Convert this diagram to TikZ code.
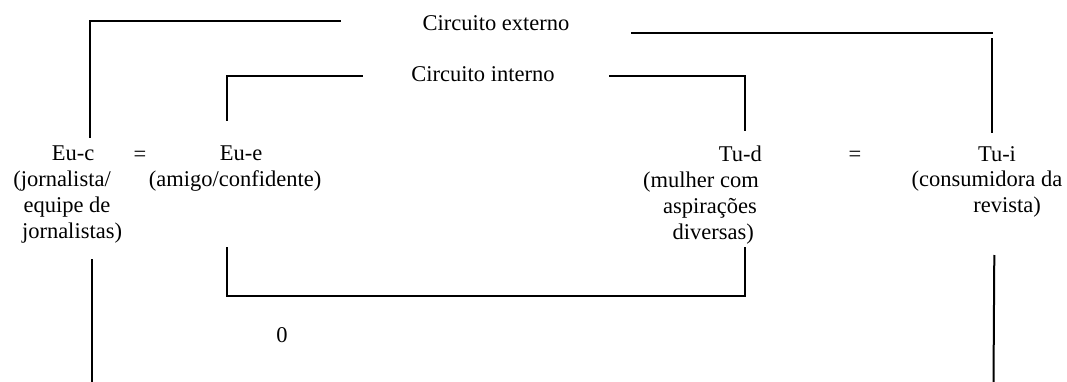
\documentclass[tikz,border=0pt]{standalone}
\usepackage{fontspec}
\setmainfont{Liberation Serif}
\begin{document}
\begin{tikzpicture}[x=1pt,y=-1pt,
  line/.style={draw=black,line width=2pt},
  lbl/.style={inner sep=0pt,font=\fontsize{22.5}{25.8}\selectfont}]
\useasboundingbox (0,0) rectangle (1067,382);
% labels
\node[lbl,anchor=base] (ext) at (496,30.5) {Circuito externo};
\node[lbl,anchor=base] (int) at (483,82) {Circuito interno};
\node[lbl,anchor=north,align=center] (euc) at (73,146) {Eu-c\\(jornalista/\kern22pt\\equipe de\kern12pt\\jornalistas)\kern2pt};
\node[lbl,anchor=base] (eq1) at (140,161) {=};
\node[lbl,anchor=north,align=center] (eue) at (241,146) {Eu-e\\(amigo/confidente)\kern12pt};
\node[lbl,anchor=north east,align=right] (tud) at (762,146) {Tu-d\\(mulher com\kern3pt\\aspirações\kern5pt\\diversas)\kern8pt};
\node[lbl,anchor=base] (eq2) at (855,161) {=};
\node[lbl,anchor=north,align=center] (tui) at (997,146) {Tu-i\\(consumidora da\kern20pt\\\kern20pt revista)};
\node[lbl,anchor=base] (zero) at (282,342) {0};
% coordinates
\coordinate (o1) at (90,138);
\coordinate (o2) at (90,20.7);
\coordinate (o3) at (341,20.7);
\coordinate (o4) at (631,32.7);
\coordinate (o5) at (993,32.7);
\coordinate (o6) at (992.3,38.3);
\coordinate (o7) at (992.3,133);
\coordinate (b1) at (92.3,259.3);
\coordinate (b2) at (92.3,382);
\coordinate (b3) at (994.3,255);
\coordinate (b4) at (993.5,382);
\coordinate (i1) at (226.7,121);
\coordinate (i2) at (226.7,75.7);
\coordinate (i3) at (362.7,75.7);
\coordinate (i4) at (609,75.7);
\coordinate (i5) at (745.3,75.7);
\coordinate (i6) at (745.3,130.7);
\coordinate (j1) at (226.7,247.3);
\coordinate (j2) at (226.7,295.7);
\coordinate (j3) at (745,295.7);
\coordinate (j4) at (745,247);
% lines
\draw[line] (o1) -- (o2) -- (o3);
\draw[line] (o4) -- (o5);
\draw[line] (o6) -- (o7);
\draw[line] (b1) -- (b2);
\draw[line] (b3) -- (b4);
\draw[line] (i1) -- (i2) -- (i3);
\draw[line] (i4) -- (i5) -- (i6);
\draw[line] (j1) -- (j2) -- (j3) -- (j4);
\end{tikzpicture}
\end{document}
